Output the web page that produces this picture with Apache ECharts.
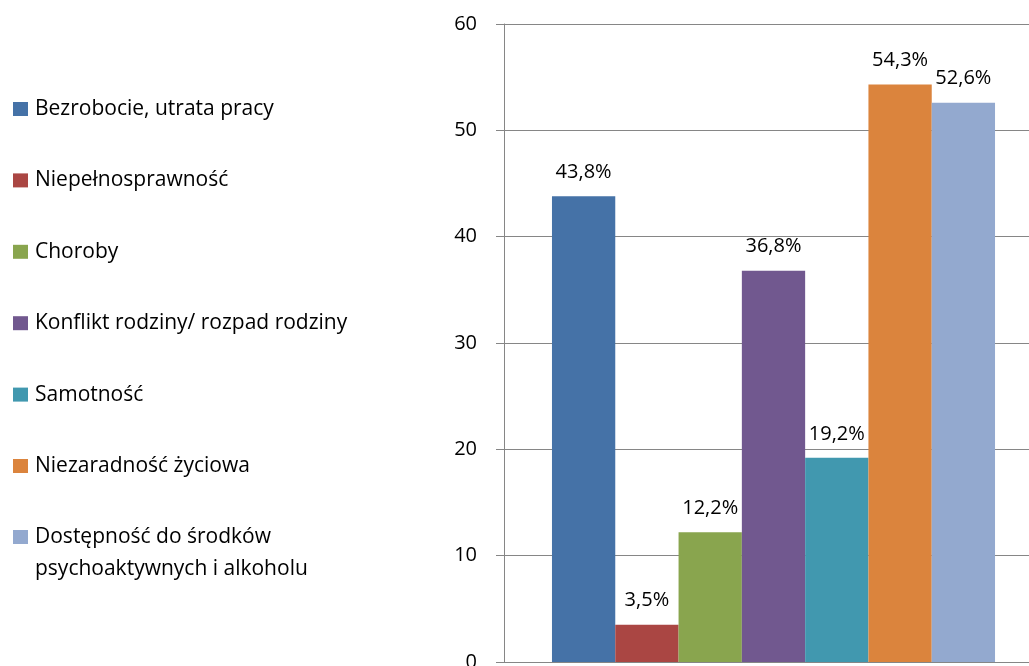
<!DOCTYPE html>
<html><head><meta charset="utf-8">
<script src="https://cdn.jsdelivr.net/npm/echarts@6/dist/echarts.min.js"></script>
<style>html,body{margin:0;padding:0;background:#fff}#c{width:1029px;height:666px}</style>
</head><body><div id="c"></div>
<script>
const seriesNames = ['Bezrobocie, utrata pracy','Niepełnosprawność','Choroby','Konflikt rodziny/ rozpad rodziny','Samotność','Niezaradność życiowa','Dostępność do środków psychoaktywnych i alkoholu'];
const values = [43.8, 3.5, 12.2, 36.8, 19.2, 54.3, 52.6];
const colors = ['#4572A7','#AA4643','#89A54E','#71588F','#4198AF','#DB843D','#93A9CF'];
const yTicks = [0,10,20,30,40,50,60];
const FONT = 'Open Sans';
const legendText = {fontFamily:FONT,fontSize:21,color:'#000',lineHeight:32,padding:[0,0,0,2]};
const chart = echarts.init(document.getElementById('c'));
chart.setOption({
  animation:false,
  textStyle:{fontFamily:FONT},
  legend:[{
    orient:'vertical', left:13, top:93, padding:0, itemWidth:15, itemHeight:14, itemGap:39.4,
    icon:'rect',
    data: seriesNames.slice(0,6),
    textStyle:legendText
  },{
    orient:'vertical', left:13, top:521, padding:0, itemWidth:15, itemHeight:64,
    symbolKeepAspect:false,
    data: [{name:seriesNames[6], icon:'path://M0,0L0.01,0ZM0,9H15V23H0ZM0,64L0.01,64Z'}],
    formatter: n => n.replace('do środków ','do środków\n'),
    textStyle:legendText
  }],
  grid:{left:504, top:24, width:539, bottom:4, outerBoundsMode:'none', containLabel:false},
  xAxis:{type:'category', data:[''], axisLine:{show:true,lineStyle:{color:'#868686'}}, axisTick:{show:false}, axisLabel:{show:false}},
  yAxis:{type:'value', min:yTicks[0], max:yTicks[yTicks.length-1], interval:10,
    axisLine:{show:true,lineStyle:{color:'#868686'}},
    axisTick:{show:true,length:8,lineStyle:{color:'#868686'}},
    splitLine:{lineStyle:{color:'#868686'}},
    axisLabel:{fontFamily:FONT,fontSize:20,color:'#000',margin:27}},
  series: seriesNames.map((n,i)=>({
    name:n, type:'bar', data:[values[i]], barGap:'0%', barCategoryGap:'17.8%',
    itemStyle:{color:colors[i]},
    label:{show:true,position:'top',distance:14,fontFamily:FONT,fontSize:20,color:'#000',
      formatter:p=>String(p.value).replace('.',',')+'%'}
  }))
});
</script></body></html>
